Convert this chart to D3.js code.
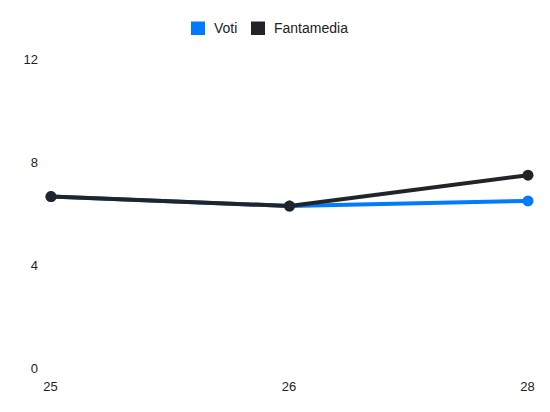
<!DOCTYPE html>
<html>
<head>
<meta charset="utf-8">
<script src="https://cdn.jsdelivr.net/npm/d3@7"></script>
<style>
  body { margin: 0; background: #fff; }
  svg { display: block; font-family: "Liberation Sans", Arial, sans-serif; }
</style>
</head>
<body>
<svg id="chart_svg" width="550" height="412"></svg>
<script>
// giornate (x categories)
const giornate = ["25", "26", "28"]
const voti = [6.67, 6.3, 6.5]
const fantamedia = [6.67, 6.3, 7.5]
const yTicks = [0, 4, 8, 12]

const seriesNames = ["Voti", "Fantamedia"]
const seriesColors = ["#007bff", "#212529"]

const width = 550
const height = 412

let svg = d3.select("#chart_svg")

/**
 * Scales
 */
const xScale = d3.scalePoint().domain(giornate).range([51, 528])
const yScale = d3.scaleLinear().domain([0, 12]).range([368, 59.5])

/**
 * Y tick labels (no axis line, no grid)
 */
let y_axis = d3.axisLeft(yScale).tickValues(yTicks).tickSize(0).tickPadding(0)
let g_y = svg.append("g").attr("transform", "translate(38,0)").call(y_axis)
g_y.select(".domain").remove()
g_y.selectAll("text")
  .attr("font-size", 13)
  .attr("font-family", "Liberation Sans, Arial, sans-serif")
  .attr("fill", "#222")

/**
 * X tick labels
 */
let x_axis = d3.axisBottom(xScale).tickSize(0).tickPadding(0)
let g_x = svg.append("g").attr("transform", "translate(-1,382)").call(x_axis)
g_x.select(".domain").remove()
g_x.selectAll("text")
  .attr("font-size", 13)
  .attr("font-family", "Liberation Sans, Arial, sans-serif")
  .attr("fill", "#222")

/**
 * Lines and points
 */
const series = [
  { name: seriesNames[0], values: voti, color: seriesColors[0] },
  { name: seriesNames[1], values: fantamedia, color: seriesColors[1] },
]

const line = d3.line()
  .x((d, i) => xScale(giornate[i]))
  .y((d) => yScale(d))

series.forEach((s) => {
  let g = svg.append("g")
  g.append("path")
    .datum(s.values)
    .attr("fill", "none")
    .attr("stroke", s.color)
    .attr("stroke-width", 4)
    .attr("stroke-linejoin", "round")
    .attr("d", line)

  g.selectAll("circle")
    .data(s.values)
    .enter()
    .append("circle")
    .attr("cx", (d, i) => xScale(giornate[i]))
    .attr("cy", (d) => yScale(d))
    .attr("r", 5.5)
    .attr("fill", s.color)
})

/**
 * Legend
 */
const legendX = [191, 251]
let legend = svg.append("g")
series.forEach((s, i) => {
  legend.append("rect")
    .attr("x", legendX[i])
    .attr("y", 21.5)
    .attr("width", 14)
    .attr("height", 13.5)
    .attr("fill", s.color)
  legend.append("text")
    .attr("x", legendX[i] + 23)
    .attr("y", 28.5)
    .attr("dy", "0.35em")
    .attr("font-size", 14)
    .attr("fill", "#222")
    .text(s.name)
})
</script>
</body>
</html>
